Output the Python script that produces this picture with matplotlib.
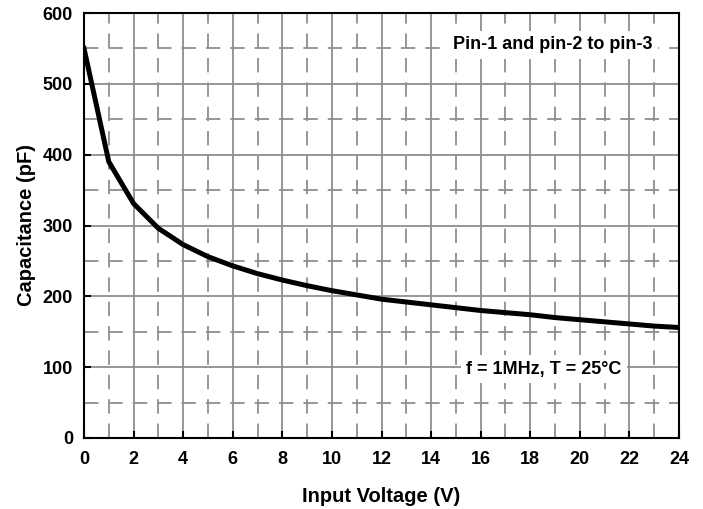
import numpy as np
import matplotlib
matplotlib.use("Agg")
from matplotlib import pyplot as plt
from matplotlib.ticker import MultipleLocator

plt.rcParams.update({
    "font.family": "Liberation Sans",
    "font.weight": "bold",
    "font.size": 13,
})

# input voltage (V) and capacitance (pF)
voltage = [0, 1, 2, 3, 4, 5, 6, 7, 8, 9, 10, 11, 12,
           13, 14, 15, 16, 17, 18, 19, 20, 21, 22, 23, 24]
capacitance = [550, 390, 331, 296, 273, 256, 243, 232, 223, 215, 208, 202, 196,
               192, 188, 184, 180, 177, 174, 170, 167, 164, 161, 158, 156]

fig = plt.figure(figsize=(7.03, 5.09), dpi=100)
ax = fig.add_axes([84/703, 1-438/509, (679-84)/703, (438-13)/509])

ax.set_xlim(0, 24)
ax.set_ylim(0, 600)
ax.xaxis.set_major_locator(MultipleLocator(2))
ax.xaxis.set_minor_locator(MultipleLocator(1))
ax.yaxis.set_major_locator(MultipleLocator(100))
ax.yaxis.set_minor_locator(MultipleLocator(50))

ax.grid(which="major", color="#8f8f8f", lw=1.3, ls="-")
ax.grid(which="minor", color="#8f8f8f", lw=1.3, ls=(0, (8, 5.5)))
ax.set_axisbelow(True)

ax.tick_params(which="major", direction="in", length=5, width=1.5, color="black")
ax.tick_params(axis="x", which="major", pad=9)
ax.tick_params(axis="y", which="major", pad=8)
ax.tick_params(which="minor", length=0)
for s in ax.spines.values():
    s.set_linewidth(1.5)

ax.plot(voltage, capacitance, color="black", lw=3.6, solid_joinstyle="miter", zorder=5)

ax.set_xlabel("Input Voltage (V)", fontweight="bold", fontsize=14.5, labelpad=14)
ax.set_ylabel("Capacitance (pF)", fontweight="bold", fontsize=14.5, labelpad=5)

box = dict(facecolor="white", edgecolor="none", pad=4)
ax.text(0.787, 0.925, "Pin-1 and pin-2 to pin-3", transform=ax.transAxes,
        ha="center", va="center", fontsize=13, fontweight="bold", bbox=box, zorder=6)
ax.text(0.773, 0.162, "f = 1MHz, T = 25°C", transform=ax.transAxes,
        ha="center", va="center", fontsize=13, fontweight="bold", bbox=box, zorder=6)

fig.savefig("out.png", dpi=100)
